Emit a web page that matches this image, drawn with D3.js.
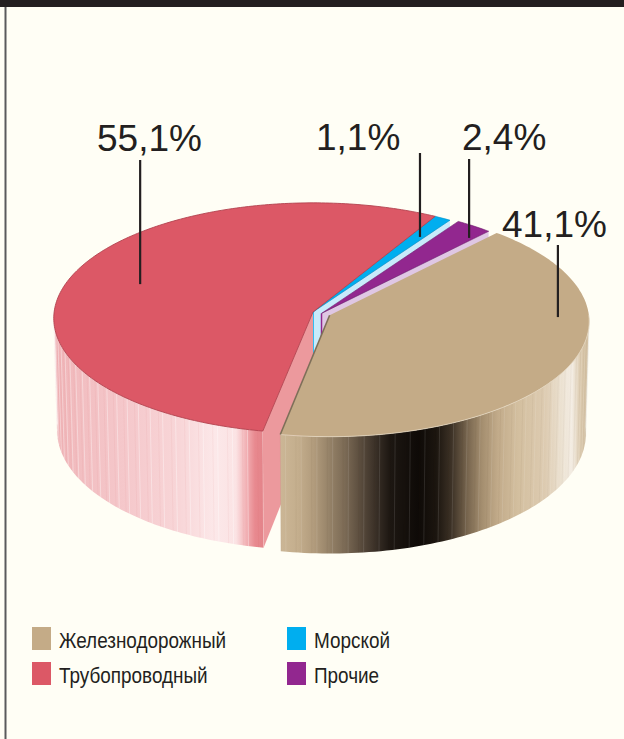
<!DOCTYPE html>
<html>
<head>
<meta charset="utf-8">
<script src="https://cdn.jsdelivr.net/npm/d3@7/dist/d3.min.js"></script>
<style>
  html, body { margin: 0; padding: 0; background: #fffef5; }
  svg { display: block; }
</style>
</head>
<body>
<svg id="chart" width="624" height="739"></svg>
<script>
// ---------------- data ----------------
const categories  = ["Трубопроводный", "Морской", "Прочие", "Железнодорожный"];
const values      = [55.1, 1.1, 2.4, 41.1];
const valueLabels = ["55,1%", "1,1%", "2,4%", "41,1%"];
const colors      = ["#dc5866", "#00aeef", "#92278f", "#c4ab87"];
const legendOrder = [3, 0, 1, 2];   // column-major: Ж, Т | М, П

// ---------------- style / layout ----------------
const svg = d3.select("#chart");
const FONT = "'Liberation Sans', Arial, Helvetica, sans-serif";
const INK = "#231f20";

// pseudo-perspective projection of a disc
const W = 259, SINP = 0.444, COSP = 0.896, K = 0.052, M = 0.026, H = 0.49;
const OX = 321.5, OY = 313.4, EXPLODE = 0.035;
function P(X, Z, Y) {
  const den = 1 - Y * M - Z * K;
  return [OX + W * X / den, OY + W * (Z * SINP - Y * COSP) / den];
}

const startDeg = 100.5; // screen angle (0 = east, clockwise) of first slice start
const pie = d3.pie().sort(null).value(d => d)
  .startAngle((startDeg + 90) * Math.PI / 180)
  .endAngle((startDeg + 90) * Math.PI / 180 + 2 * Math.PI);
const arcs = pie(values);

const slices = arcs.map((d, i) => ({
  i, a: d.startAngle - Math.PI / 2, b: d.endAngle - Math.PI / 2,
  mid: (d.startAngle + d.endAngle) / 2 - Math.PI / 2, color: colors[i], ox: 0, oz: 0
}));
// explosion: pipe & sea pulled together, rail pulled away, other stays
const explodeDirOf = [0, 0, -1, 3];
slices.forEach((s, i) => {
  const j = explodeDirOf[i];
  if (j >= 0) { s.ox = EXPLODE * Math.cos(slices[j].mid); s.oz = EXPLODE * Math.sin(slices[j].mid); }
});

function rimPt(s, t, Y, r = 1) { return P(s.ox + r * Math.cos(t), s.oz + r * Math.sin(t), Y); }
function samples(lo, hi, n) { const out = []; for (let k = 0; k <= n; k++) out.push(lo + (hi - lo) * k / n); return out; }
const line = d3.line();

function topPath(s) {
  const pts = [P(s.ox, s.oz, 0)];
  samples(s.a, s.b, Math.max(4, Math.ceil((s.b - s.a) * 60))).forEach(t => pts.push(rimPt(s, t, 0)));
  return line(pts) + "Z";
}
function radialFace(s, t) {
  const pts = [P(s.ox, s.oz, 0), rimPt(s, t, 0), rimPt(s, t, -H), P(s.ox, s.oz, -H)];
  return line(pts) + "Z";
}
function wallIntervals(s) {
  const out = [];
  for (let n = -1; n <= 2; n++) {
    const lo = Math.max(s.a, 2 * Math.PI * n), hi = Math.min(s.b, Math.PI + 2 * Math.PI * n);
    if (hi > lo) out.push([lo, hi]);
  }
  return out;
}
function wallPath(s, lo, hi) {
  const ts = samples(lo, hi, 80);
  const pts = ts.map(t => rimPt(s, t, 0)).concat(ts.slice().reverse().map(t => rimPt(s, t, -H)));
  return line(pts) + "Z";
}

// ---------------- background ----------------
svg.append("rect").attr("width", 624).attr("height", 739).attr("fill", "#fffef5");
svg.append("rect").attr("x", 0).attr("y", 0).attr("width", 624).attr("height", 7).attr("fill", INK);
svg.append("rect").attr("x", 4.5).attr("y", 7).attr("width", 2).attr("height", 732).attr("fill", "#5a5a5c");

// ---------------- gradients ----------------
const defs = svg.append("defs");
const wallStops = {
  0: [[54, "#efb2b5"], [80, "#f2bec1"], [130, "#f5c9cc"], [180, "#f8d6d8"], [215, "#fce8e9"],
      [236, "#fbe3e4"], [247, "#f1adb1"], [255, "#e8898f"], [262, "#e4848a"]],
  3: [[276, "#cdb898"], [298, "#c4ae8d"], [314, "#b19b7c"], [330, "#948167"], [345, "#7b6a55"],
      [360, "#5b4d3e"], [375, "#3b3128"], [390, "#1d1712"], [418, "#0e0a07"], [436, "#1b150f"],
      [452, "#3e3327"], [467, "#76644d"], [482, "#a48e6f"], [498, "#c2ab8a"], [518, "#d3bf9f"],
      [545, "#ddcbb1"], [562, "#ece2d2"], [572, "#f3ece2"], [580, "#ddccb1"], [590, "#cdb896"]]
};
Object.keys(wallStops).forEach(k => {
  const g = defs.append("linearGradient").attr("id", "wall" + k)
    .attr("gradientUnits", "userSpaceOnUse").attr("x1", 0).attr("x2", 624).attr("y1", 0).attr("y2", 0);
  wallStops[k].forEach(([x, c]) => g.append("stop").attr("offset", x / 624).attr("stop-color", c));
});

const faceColors = { end: ["#f0a9ad", "#c8ebfb", "#dfc7e4", "#b8a080"], start: "#ec999d" };
const edgeColors = ["#b2434f", "#0090c8", "#6e1c6c", "#7e6f59"];

const g = svg.append("g");
const [red, blue, purple, tan] = slices;

// back: end faces and tops of the small slices
g.append("path").attr("d", radialFace(red, red.b)).attr("fill", faceColors.end[0]);
[blue, purple].forEach(s => {
  g.append("path").attr("d", radialFace(s, s.b)).attr("fill", faceColors.end[s.i]);
  g.append("path").attr("d", line([P(s.ox, s.oz, 0), P(s.ox, s.oz, -H)]))
    .attr("stroke", s.color).attr("stroke-width", 1.5);
  g.append("path").attr("d", topPath(s)).attr("fill", s.color)
    .attr("stroke", edgeColors[s.i]).attr("stroke-width", 0.6);
});

function drawWall(s) {
  wallIntervals(s).forEach(([lo, hi]) => {
    g.append("path").attr("d", wallPath(s, lo, hi)).attr("fill", `url(#wall${s.i})`);
    const ts = samples(lo, hi, Math.round((hi - lo) * 180 / Math.PI / 1.1));
    ts.forEach((t, k) => {
      const light = s.i === 0 ? (k % 3 === 0 ? 0.45 : 0) : (k % 3 === 0 ? 0.14 : 0);
      const dark = s.i === 0 ? (k % 3 === 1 ? 0.07 : 0) : (k % 3 === 1 ? 0.06 : 0);
      if (light > 0) g.append("path").attr("d", line([rimPt(s, t, 0), rimPt(s, t, -H)]))
        .attr("stroke", "#ffffff").attr("stroke-opacity", light).attr("stroke-width", 0.8);
      if (dark > 0) g.append("path").attr("d", line([rimPt(s, t, 0), rimPt(s, t, -H)]))
        .attr("stroke", s.i === 0 ? "#c0404e" : "#3a2a1a").attr("stroke-opacity", dark).attr("stroke-width", 0.8);
    });
  });
}

// pipe slice
drawWall(red);
g.append("path").attr("d", radialFace(red, red.a)).attr("fill", faceColors.start);
g.append("path").attr("d", topPath(red)).attr("fill", red.color)
  .attr("stroke", edgeColors[0]).attr("stroke-width", 0.9);

// rail slice
drawWall(tan);
g.append("path").attr("d", topPath(tan)).attr("fill", tan.color);
// light rim highlight along the visible front edge, dark line on the cut edge
wallIntervals(tan).forEach(([lo, hi]) => {
  g.append("path").attr("d", line(samples(lo, hi, 60).map(t => rimPt(tan, t, 0))))
    .attr("fill", "none").attr("stroke", "#e4d6bf").attr("stroke-width", 1).attr("stroke-opacity", 0.8);
});
g.append("path").attr("d", line([P(tan.ox, tan.oz, 0), rimPt(tan, tan.b, 0)]))
  .attr("stroke", edgeColors[3]).attr("stroke-width", 1.6);

// ---------------- value labels ----------------
const labelLayout = [
  { x: 97,  y: 151, top: 160, frac: 0.5,  r: 0.72 },
  { x: 316, y: 150, top: 153, frac: 0.7,  r: 0.8 },
  { x: 462, y: 150, top: 159, frac: 0.87, r: 0.9 },
  { x: 502, y: 237, top: 245, frac: 0.33, r: 0.88 }
];
slices.forEach((s, i) => {
  const L = labelLayout[i];
  const t = s.a + (s.b - s.a) * L.frac;
  const [ax, ay] = rimPt(s, t, 0, L.r);
  svg.append("line").attr("x1", ax).attr("x2", ax).attr("y1", L.top).attr("y2", ay)
    .attr("stroke", INK).attr("stroke-width", 2.2);
  svg.append("text").attr("x", L.x).attr("y", L.y).text(valueLabels[i])
    .attr("font-family", FONT).attr("font-size", 37).attr("fill", INK);
});

// ---------------- legend ----------------
const legend = svg.append("g");
legendOrder.forEach((idx, k) => {
  const col = Math.floor(k / 2), row = k % 2;
  const x = 32 + col * 255, y = 627 + row * 35;
  legend.append("rect").attr("x", x).attr("y", y).attr("width", 19).attr("height", 23).attr("fill", colors[idx]);
  legend.append("text").attr("transform", `translate(${x + 27},${y + 20.5}) scale(0.86,1)`)
    .text(categories[idx]).attr("font-family", FONT).attr("font-size", 22).attr("fill", INK);
});
</script>
</body>
</html>
